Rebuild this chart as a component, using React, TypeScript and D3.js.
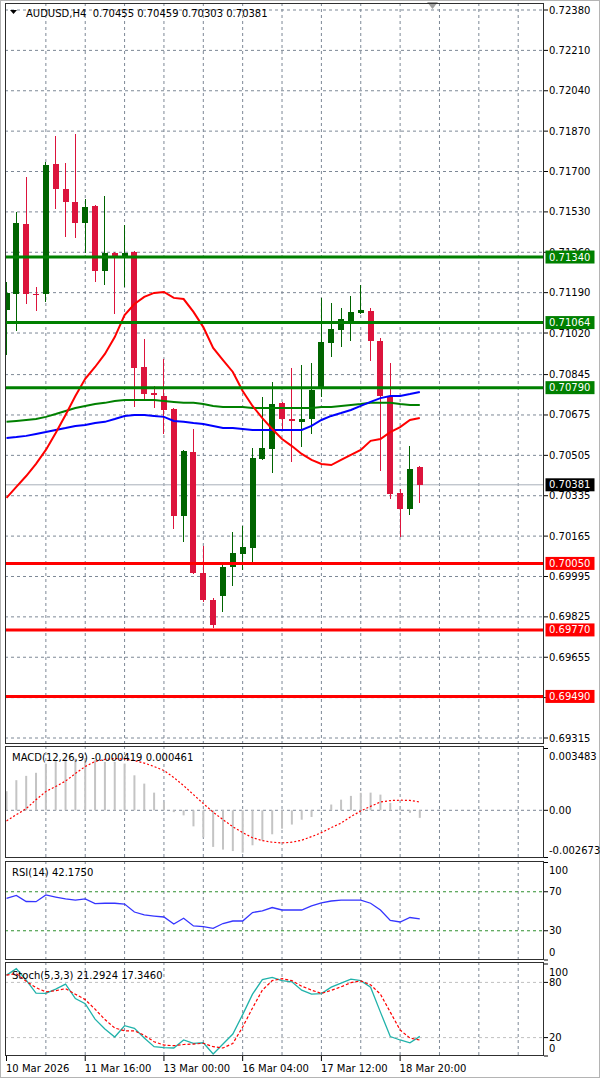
import * as d3 from 'd3'

// H4 bars, [open, high, low, close]
const candles: [number, number, number, number][] = [
  [0.71117, 0.71235, 0.70928, 0.71189], [0.71184, 0.71530, 0.71029, 0.71483],
  [0.71479, 0.71677, 0.71142, 0.71184], [0.71184, 0.71214, 0.71113, 0.71180],
  [0.71184, 0.71740, 0.71151, 0.71727], [0.71732, 0.71850, 0.71542, 0.71626],
  [0.71626, 0.71736, 0.71424, 0.71572], [0.71572, 0.71858, 0.71420, 0.71483],
  [0.71483, 0.71584, 0.71357, 0.71551], [0.71555, 0.71559, 0.71235, 0.71281],
  [0.71281, 0.71597, 0.71222, 0.71357], [0.71357, 0.71361, 0.71100, 0.71336],
  [0.71340, 0.71475, 0.71214, 0.71357], [0.71361, 0.71365, 0.70709, 0.70873],
  [0.70877, 0.70995, 0.70738, 0.70763], [0.70768, 0.70797, 0.70704, 0.70759],
  [0.70755, 0.70911, 0.70595, 0.70696], [0.70700, 0.70704, 0.70195, 0.70250],
  [0.70250, 0.70528, 0.70140, 0.70523], [0.70519, 0.70616, 0.70006, 0.70010],
  [0.70010, 0.70123, 0.69888, 0.69896], [0.69896, 0.69905, 0.69778, 0.69791],
  [0.69913, 0.70056, 0.69846, 0.70035], [0.70035, 0.70182, 0.69955, 0.70094],
  [0.70090, 0.70208, 0.70022, 0.70119], [0.70115, 0.70536, 0.70052, 0.70494],
  [0.70490, 0.70751, 0.70486, 0.70536], [0.70532, 0.70814, 0.70431, 0.70721],
  [0.70726, 0.70730, 0.70616, 0.70658], [0.70658, 0.70873, 0.70477, 0.70650],
  [0.70646, 0.70885, 0.70540, 0.70658], [0.70658, 0.70894, 0.70595, 0.70780],
  [0.70789, 0.71168, 0.70751, 0.70982], [0.70978, 0.71147, 0.70919, 0.71037],
  [0.71033, 0.71125, 0.70961, 0.71079], [0.71071, 0.71176, 0.70987, 0.71109],
  [0.71104, 0.71222, 0.71100, 0.71117], [0.71113, 0.71125, 0.70902, 0.70987],
  [0.70987, 0.70999, 0.70439, 0.70755], [0.70755, 0.70894, 0.70321, 0.70342],
  [0.70347, 0.70363, 0.70161, 0.70279], [0.70279, 0.70544, 0.70254, 0.70448],
  [0.70455, 0.70459, 0.70303, 0.70381],
]

const maRed = [0.70326, 0.70372, 0.70418, 0.70469, 0.70528, 0.70599, 0.70675, 0.70755, 0.70827, 0.70877,
  0.70932, 0.71003, 0.71096, 0.71142, 0.71172, 0.71189, 0.71193, 0.71168, 0.71163, 0.71109,
  0.71045, 0.70957, 0.70906, 0.70856, 0.70776, 0.70713, 0.70662, 0.70616, 0.70574, 0.70544,
  0.70511, 0.70486, 0.70469, 0.70464, 0.70486, 0.70507, 0.70528, 0.70566, 0.70574, 0.70603,
  0.70624, 0.70654, 0.70662]
const maBlue = [0.70578, 0.70582, 0.70587, 0.70595, 0.70603, 0.70612, 0.70620, 0.70629, 0.70633, 0.70641,
  0.70646, 0.70658, 0.70671, 0.70675, 0.70675, 0.70671, 0.70667, 0.70650, 0.70646, 0.70641,
  0.70637, 0.70629, 0.70620, 0.70620, 0.70616, 0.70612, 0.70612, 0.70612, 0.70612, 0.70612,
  0.70612, 0.70629, 0.70654, 0.70671, 0.70683, 0.70696, 0.70713, 0.70730, 0.70746, 0.70755,
  0.70755, 0.70763, 0.70772]
const maGreen = [0.70646, 0.70650, 0.70654, 0.70658, 0.70667, 0.70679, 0.70692, 0.70704, 0.70713, 0.70721,
  0.70726, 0.70734, 0.70738, 0.70738, 0.70738, 0.70738, 0.70734, 0.70730, 0.70726, 0.70726,
  0.70721, 0.70713, 0.70709, 0.70709, 0.70709, 0.70704, 0.70704, 0.70704, 0.70704, 0.70704,
  0.70704, 0.70704, 0.70709, 0.70709, 0.70713, 0.70717, 0.70721, 0.70726, 0.70726, 0.70726,
  0.70721, 0.70717, 0.70717]

const resistance = [0.71340, 0.71064, 0.70790]
const support = [0.70050, 0.69770, 0.69490]
const lastPrice = 0.70381

const priceTicks = ['0.72380', '0.72210', '0.72040', '0.71870', '0.71700', '0.71530', '0.71360', '0.71190',
  '0.71020', '0.70845', '0.70675', '0.70505', '0.70335', '0.70165', '0.69995', '0.69825', '0.69655',
  '0.69485', '0.69315']

const macdHist = [0.00106, 0.00167, 0.00191, 0.00208, 0.00259, 0.00278, 0.00287, 0.00287, 0.00287, 0.00278,
  0.00269, 0.00269, 0.00259, 0.00194, 0.00148, 0.00098, 0.00045, -0.0001, -0.00028, -0.00089,
  -0.0015, -0.00203, -0.00218, -0.00226, -0.00235, -0.00194, -0.00167, -0.00133, -0.00102, -0.00079,
  -0.00052, -0.00037, -0.00002, 0.00032, 0.00059, 0.0008, 0.00097, 0.00098, 0.00087, 0.00041,
  0.00009, -0.00014, -0.000419]
const macdSignal = [-0.00059, -0.00024, 0.00009, 0.00059, 0.00104, 0.00132, 0.00162, 0.00204, 0.00243, 0.00271,
  0.00282, 0.00287, 0.00284, 0.00276, 0.00262, 0.00243, 0.00221, 0.00182, 0.00137, 0.00087,
  0.00037, -0.0001, -0.00052, -0.00091, -0.00124, -0.00152, -0.00168, -0.00177, -0.00181, -0.00177,
  -0.00166, -0.00146, -0.00124, -0.00096, -0.00071, -0.00035, -0.00004, 0.00022, 0.00046, 0.00054,
  0.00056, 0.00055, 0.000461]
const macdRange = [-0.002673, 0.003483]

const rsi = [63.3, 66.2, 60.0, 59.8, 66.7, 64.6, 62.6, 61.5, 62.6, 57.9,
  58.2, 58.2, 57.4, 49.2, 46.2, 45.1, 44.1, 36.9, 42.8, 34.9,
  34.2, 32.5, 37.4, 40.0, 40.0, 48.7, 50.3, 53.8, 51.3, 51.3,
  51.3, 55.4, 58.5, 60.5, 61.5, 61.5, 61.5, 58.2, 51.3, 40.5,
  39.0, 43.6, 42.175]
const stochMain = [87.9, 94.9, 82.4, 68.3, 68.0, 72.7, 78.1, 62.4, 56.9, 40.1,
  29.3, 20.6, 32.9, 30.0, 19.5, 10.1, 9.2, 8.7, 17.4, 13.8,
  14.4, 2.2, 13.0, 23.9, 45.0, 67.2, 83.0, 85.4, 81.9, 80.6,
  71.6, 67.2, 67.8, 74.8, 79.2, 83.5, 81.9, 74.8, 47.7, 21.1,
  17.4, 14.4, 21.29]
const stochSignal = [87.9, 89.5, 81.3, 74.3, 69.7, 71.0, 73.2, 67.2, 61.3, 50.9,
  39.6, 30.4, 27.4, 27.4, 22.5, 15.5, 11.9, 11.2, 12.5, 13.0,
  13.8, 10.1, 8.7, 13.6, 31.5, 52.1, 71.6, 81.9, 84.1, 81.9,
  75.9, 71.6, 68.0, 71.3, 75.2, 79.7, 81.7, 77.3, 67.2, 47.7,
  28.2, 19.5, 17.35]

const timeLabels = ['10 Mar 2026', '11 Mar 16:00', '13 Mar 00:00', '16 Mar 04:00', '17 Mar 12:00', '18 Mar 20:00']

const FONT = '"DejaVu Sans", Tahoma, sans-serif'
const L = 5, R = 544, AX = 549
const GRID = '#7d8896'
const BULL = '#006400', BEAR = '#dc143c'

export default function App() {
  const x = d3.scaleLinear().domain([0, 52]).range([6.5, 518.2])
  const py = d3.scaleLinear().domain([0.69315, 0.72380]).range([738, 10])
  const my = d3.scaleLinear().domain(macdRange).range([858.5, 747.5])
  const ry = d3.scaleLinear().domain([0, 100]).range([960, 862.5])
  const sy = d3.scaleLinear().domain([0, 100]).range([1056, 964])

  const line = (yS: d3.ScaleLinear<number, number>) =>
    d3.line<number>().x((_, i) => x(i)).y(v => yS(v))

  const gridX = d3.range(4, 53, 4).map(i => x(i))
  // panels: [id, top, bottom]
  const panels: [string, number, number][] = [['main', 3, 744], ['macd', 746, 858], ['rsi', 861, 960], ['stoch', 962, 1056]]

  const vGrid = (top: number, bot: number) => gridX.map((gx, k) => (
    <line key={k} x1={gx} x2={gx} y1={top} y2={bot} stroke={GRID} strokeDasharray="3,3"/>
  ))
  const hDash = (yy: number, col: string, k: string | number) => (
    <line key={k} x1={L} x2={R} y1={yy} y2={yy} stroke={col} strokeDasharray="3,3"/>
  )
  const axisLabel = (t: string, yy: number, tickY: number, k: string | number) => (
    <g key={k}>
      <line x1={R} x2={R + 4} y1={tickY} y2={tickY} stroke="#000"/>
      <text x={AX} y={yy} dy="0.35em" fontSize={10} fill="#000">{t}</text>
    </g>
  )
  const levelBox = (v: number, col: string, k: string | number) => (
    <g key={k}>
      <rect x={R + 1.5} y={py(v) - 6.5} width={49} height={13} fill={col}/>
      <text x={AX} y={py(v)} dy="0.35em" fontSize={10} fill="#fff">{v.toFixed(5)}</text>
    </g>
  )
  const last = candles[candles.length - 1]

  return (
    <svg width={600} height={1078} style={{ position: 'absolute', left: 0, top: 0, background: '#fff' }}
      fontFamily={FONT}>
      <defs>
        {panels.map(([id, t, b]) => (
          <clipPath key={id} id={`clip-${id}`}><rect x={L} y={t} width={R - L} height={b - t}/></clipPath>
        ))}
      </defs>
      <rect x={0.5} y={0.5} width={599} height={1077} fill="#fff" stroke="#b4b4b4"/>

      {/* Main price panel */}
      <g clipPath="url(#clip-main)">
        {vGrid(3, 744)}
        {priceTicks.map((t, k) => hDash(py(+t), GRID, k))}
        <line x1={L} x2={R} y1={py(lastPrice)} y2={py(lastPrice)} stroke="#a8b0ba"/>
        <g shapeRendering="crispEdges">
          {candles.map(([o, h, l, c], i) => {
            const col = c >= o ? BULL : BEAR
            const top = py(Math.max(o, c)), hgt = Math.max(1, Math.abs(py(o) - py(c)))
            return (
              <g key={i}>
                <line x1={x(i)} x2={x(i)} y1={py(h)} y2={py(l)} stroke={col}/>
                <rect x={x(i) - 3} y={top} width={6} height={hgt} fill={col}/>
              </g>
            )
          })}
        </g>
        <path d={line(py)(maGreen)!} fill="none" stroke="#008000" strokeWidth={2}/>
        <path d={line(py)(maBlue)!} fill="none" stroke="#0000ff" strokeWidth={2}/>
        <path d={line(py)(maRed)!} fill="none" stroke="#ff0000" strokeWidth={2}/>
        {resistance.map((v, k) => (
          <line key={`r${k}`} x1={L} x2={R} y1={py(v)} y2={py(v)} stroke="#008000" strokeWidth={3}/>
        ))}
        {support.map((v, k) => (
          <line key={`s${k}`} x1={L} x2={R} y1={py(v)} y2={py(v)} stroke="#ff0000" strokeWidth={3}/>
        ))}
      </g>
      {priceTicks.map((t, k) => axisLabel(t, py(+t), py(+t), `p${k}`))}
      {resistance.map((v, k) => levelBox(v, '#008000', `rb${k}`))}
      {support.map((v, k) => levelBox(v, '#ff0000', `sb${k}`))}
      <rect x={R + 1.5} y={py(lastPrice) - 6.5} width={49} height={13} fill="#000"/>
      <text x={AX} y={py(lastPrice)} dy="0.35em" fontSize={10} fill="#fff">{lastPrice.toFixed(5)}</text>
      <path d="M10,10 L17,10 L13.5,14 Z" fill="#000"/>
      <text x={26} y={13} dy="0.35em" fontSize={10} fill="#000" style={{ whiteSpace: 'pre' }}>
        {`AUDUSD,H4  ${last.map(v => v.toFixed(5)).join(' ')}`}
      </text>
      <path d="M427,2 L438,2 L432.5,9 Z" fill="#a0a0a0"/>

      {/* MACD */}
      <g clipPath="url(#clip-macd)">
        {vGrid(746, 858)}
        {hDash(my(0), GRID, 'z')}
        {macdHist.map((v, i) => (
          <rect key={i} x={x(i) - 1} width={2} y={Math.min(my(0), my(v))} height={Math.abs(my(v) - my(0))}
            fill="#c4c4c4"/>
        ))}
        <path d={line(my)(macdSignal)!} fill="none" stroke="#ff0000" strokeWidth={1.2} strokeDasharray="2,2"/>
      </g>
      <text x={12} y={757} dy="0.35em" fontSize={10} fill="#000">MACD(12,26,9) -0.000419 0.000461</text>
      {axisLabel(macdRange[1].toFixed(6), my(macdRange[1]) + 9, my(macdRange[1]) + 1, 'm1')}
      {axisLabel('0.00', my(0), my(0), 'm0')}
      {axisLabel(macdRange[0].toFixed(6), my(macdRange[0]) - 8, my(macdRange[0]) - 1, 'm2')}

      {/* RSI */}
      <g clipPath="url(#clip-rsi)">
        {vGrid(861, 960)}
        {[70, 30].map(v => hDash(ry(v), '#2f8f2f', v))}
        <path d={line(ry)(rsi)!} fill="none" stroke="#3535ff" strokeWidth={1.3}/>
      </g>
      <text x={12} y={872} dy="0.35em" fontSize={10} fill="#000">RSI(14) 42.1750</text>
      {axisLabel('100', ry(100) + 8, ry(100), 'r100')}
      {axisLabel('70', ry(70), ry(70), 'r70')}
      {axisLabel('30', ry(30), ry(30), 'r30')}
      {axisLabel('0', ry(0) - 8, ry(0), 'r0')}

      {/* Stochastic */}
      <g clipPath="url(#clip-stoch)">
        {vGrid(962, 1056)}
        {[80, 20].map(v => hDash(sy(v), '#c0c0c0', v))}
        <path d={line(sy)(stochMain)!} fill="none" stroke="#20b2aa" strokeWidth={1.3}/>
        <path d={line(sy)(stochSignal)!} fill="none" stroke="#ff0000" strokeWidth={1.2} strokeDasharray="3,2"/>
      </g>
      <text x={12} y={975} dy="0.35em" fontSize={10} fill="#000">Stoch(5,3,3) 21.2924 17.3460</text>
      {axisLabel('100', sy(100) + 8, sy(100), 's100')}
      {axisLabel('80', sy(80), sy(80), 's80')}
      {axisLabel('20', sy(20), sy(20), 's20')}
      {axisLabel('0', sy(0) - 8, sy(0), 's0')}

      {/* Panel frames */}
      {panels.map(([id, t, b]) => (
        <rect key={id} x={L + 0.5} y={t + 0.5} width={R - L - 1} height={b - t - 1} fill="none" stroke="#303030"/>
      ))}

      {/* Time axis */}
      {timeLabels.map((t, k) => (
        <g key={t}>
          <line x1={x(k * 8)} x2={x(k * 8)} y1={1056} y2={1061} stroke="#000"/>
          <text x={x(k * 8) - 0.5} y={1068} dy="0.35em" fontSize={10} fill="#000">{t}</text>
        </g>
      ))}
    </svg>
  )
}
